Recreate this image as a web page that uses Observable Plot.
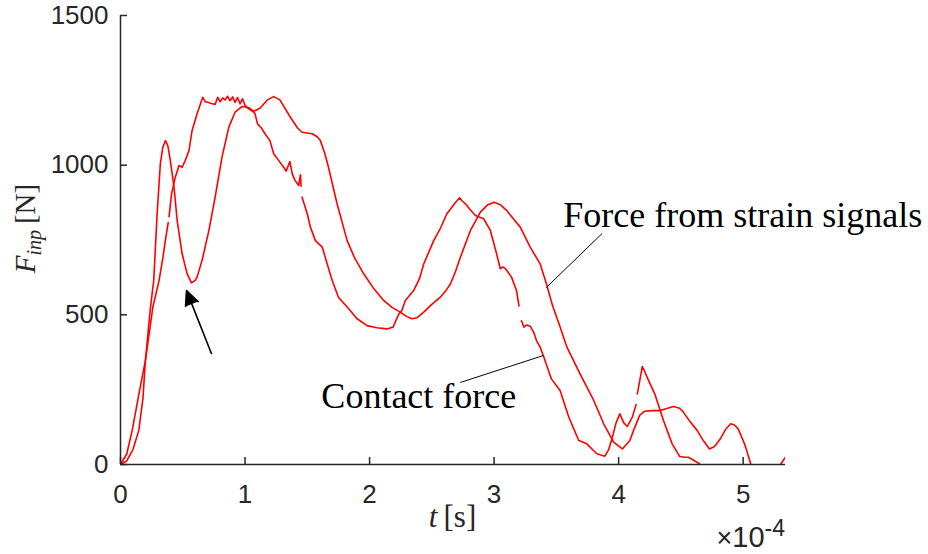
<!DOCTYPE html>
<html><head><meta charset="utf-8">
<script src="https://cdn.jsdelivr.net/npm/d3@7"></script>
<script src="https://cdn.jsdelivr.net/npm/@observablehq/plot@0.6"></script>
<style>body{margin:0;background:#fff} #chart svg{display:block}</style>
</head><body><div id="chart"></div>
<script>
// time in units of 1e-4 s, force in N
const strainT = [0,0.05,0.10,0.147,0.18,0.20,0.241,0.267,0.294,0.32,0.34,0.361,0.38,0.40,0.43,0.455,0.495,0.535,0.57,0.60,0.615,0.655,0.71,0.76,0.815,0.87,0.92,0.977,1.03,1.07,1.12,1.18,1.23,1.28,1.364,1.42,1.458,1.538,1.58,1.605,1.64,1.67,1.739,1.82,1.88,1.953,2.03,2.113,2.18,2.247,2.30,2.34,2.38,2.435,2.50,2.568,2.62,2.65,2.69,2.73,2.81,2.89,2.95,3.0,3.05,3.10,3.21,3.29,3.37,3.42,3.47,3.53,3.585,3.69,3.80,3.88,3.96,4.03,4.09,4.12,4.17,4.21,4.27,4.33,4.38,4.44,4.49,4.52,4.57,4.63,4.68,4.73,4.77,4.82,4.86,4.90,4.93,4.96,5.00,5.02,5.06,5.10,5.18,5.25,5.30,5.34];
const strainF = [0,12,50,114,220,347,526,615,837,1005,1060,1082,1065,1016,926,815,704,637,607,615,626,682,782,893,1027,1127,1177,1196,1192,1180,1190,1218,1229,1218,1160,1125,1110,1105,1095,1082,1040,993,871,748,690,637,590,548,525,509,494,487,490,509,535,559,585,604,645,693,782,843,868,876,868,849,793,726,670,604,530,459,392,303,214,136,75,52,80,114,165,178,180,180,186,194,188,175,145,114,80,52,60,88,118,136,132,119,80,58,3,-60,-100,-50,0,25];

const contactT = [0,0.05,0.094,0.15,0.20,0.26,0.31,0.34,0.36,0.383,0.385,0.39,0.41,0.44,0.47,0.495,0.52,0.55,0.575,0.615,0.66,0.68,0.70,0.73,0.76,0.78,0.80,0.82,0.84,0.86,0.88,0.90,0.92,0.94,0.96,0.98,1.00,1.03,1.06,1.08,1.10,1.13,1.16,1.20,1.23,1.27,1.31,1.33,1.36,1.38,1.40,1.43,1.445,1.45,1.452,1.458,1.50,1.525,1.565,1.62,1.66,1.70,1.75,1.82,1.90,1.98,2.06,2.14,2.19,2.21,2.236,2.26,2.287,2.354,2.40,2.435,2.515,2.57,2.62,2.68,2.723,2.74,2.77,2.81,2.85,2.916,2.97,3.02,3.05,3.07,3.09,3.14,3.18,3.20,3.21,3.22,3.24,3.26,3.29,3.32,3.34,3.37,3.40,3.46,3.53,3.60,3.68,3.745,3.79,3.825,3.87,3.89,3.92,3.95,3.98,4.01,4.04,4.07,4.11,4.14,4.145,4.15,4.19,4.21,4.24,4.29,4.36,4.43,4.49,4.53,4.56,4.60,4.65,4.70];
const contactF = [0,35,114,240,347,526,615,690,748,808,null,828,904,960,999,993,1016,1049,1116,1172,1227,1212,1210,1206,1203,1227,1212,1225,1218,1230,1215,1228,1210,1226,1205,1222,1200,1188,1180,1172,1138,1125,1105,1082,1038,1016,993,980,1012,970,950,932,968,930,null,893,837,793,748,726,670,615,559,526,487,464,457,453,459,480,503,515,548,581,620,670,748,790,837,870,891,882,871,850,832,821,782,704,654,660,655,626,581,530,null,480,459,466,462,440,414,392,358,286,247,158,80,69,50,36,30,28,50,91,140,169,140,127,158,200,null,236,327,310,281,236,147,69,27,24,24,15,2,-30];

const seriesNames = ["Force from strain signals", "Contact force"];
const xTicks = [0, 1, 2, 3, 4, 5];
const yTicks = [0, 500, 1000, 1500];
const xDomain = [0, 5.34];
const yDomain = [0, 1500];

// annotation anchors in data units
const labelX = [3.555, 1.613];
const labelY = [795, 190];
const leaderX1 = [3.419, 3.395];
const leaderY1 = [591, 364];
const leaderX2 = [3.868, 2.729];
const leaderY2 = [772, 274];
const arrowX1 = [0.730];
const arrowY1 = [371];
const arrowX2 = [0.530];
const arrowY2 = [581];

const strainRows = strainT.map((t, i) => ({t, F: strainF[i]}));
const contactRows = contactT.map((t, i) => ({t, F: contactF[i]}));
const labels = seriesNames.map((name, i) => ({name, x: labelX[i], y: labelY[i]}));
const leaders = leaderX1.map((x1, i) => ({x1, y1: leaderY1[i], x2: leaderX2[i], y2: leaderY2[i]}));
const arrows = arrowX1.map((x1, i) => ({x1, y1: arrowY1[i], x2: arrowX2[i], y2: arrowY2[i]}));

const axisColor = "#262626";
const plot = Plot.plot({
  width: 928, height: 554,
  marginLeft: 120, marginRight: 143, marginTop: 15, marginBottom: 90,
  x: {domain: xDomain},
  y: {domain: yDomain},
  style: {background: "white", color: axisColor, fontFamily: "'Liberation Sans', Arial, sans-serif"},
  marks: [
    Plot.line(strainRows, {x: "t", y: "F", stroke: "#ff0000", strokeWidth: 1.6, clip: true}),
    Plot.line(contactRows, {x: "t", y: "F", stroke: "#ff0000", strokeWidth: 1.6, clip: true}),
    Plot.ruleY([0], {stroke: axisColor, strokeWidth: 1.5}),
    Plot.ruleX([0], {stroke: axisColor, strokeWidth: 1.5}),
    Plot.axisX({ticks: xTicks, tickSize: -7, tickPadding: 27, tickFormat: d => String(d), fontSize: 26, label: null, strokeWidth: 1.5}),
    Plot.axisY({ticks: yTicks, tickSize: -7, tickPadding: 19, tickFormat: d => String(d), fontSize: 26, label: null, strokeWidth: 1.5}),
    Plot.link(leaders, {x1: "x1", y1: "y1", x2: "x2", y2: "y2", stroke: "black", strokeWidth: 1}),
    Plot.arrow(arrows, {x1: "x1", y1: "y1", x2: "x2", y2: "y2", stroke: "black", fill: "black", strokeWidth: 1.6, headLength: 15, headAngle: 50}),
    Plot.text(labels, {x: "x", y: "y", text: "name", textAnchor: "start", lineAnchor: "bottom", fontFamily: "'Liberation Serif', 'Times New Roman', serif", fontSize: 36, fill: "black"})
  ]
});
document.getElementById("chart").appendChild(plot);

// axis titles and exponent
const svg = d3.select(plot);
const sx = plot.scale("x"), sy = plot.scale("y");
const xMid = (sx.range[0] + sx.range[1]) / 2;
const yMid = (sy.range[0] + sy.range[1]) / 2;
const serif = "'Liberation Serif', 'Times New Roman', serif";

const xl = svg.append("text").attr("x", xMid).attr("y", sy.range[0] + 63)
  .attr("text-anchor", "middle").attr("font-family", serif).attr("font-size", 31).attr("fill", axisColor);
xl.append("tspan").attr("font-style", "italic").text("t");
xl.append("tspan").text("\u2009[s]");

const yl = svg.append("text")
  .attr("transform", `translate(${sx.range[0] - 85},${yMid - 11}) rotate(-90)`)
  .attr("text-anchor", "middle").attr("font-family", serif).attr("font-size", 29).attr("fill", axisColor);
yl.append("tspan").attr("font-style", "italic").text("F");
yl.append("tspan").attr("font-style", "italic").attr("font-size", 20).attr("dy", 6).text("inp");
yl.append("tspan").attr("dy", -6).text("\u2009[N]");

const ex = svg.append("text").attr("x", sx.range[1]).attr("y", sy.range[0] + 83)
  .attr("text-anchor", "end").attr("font-family", "'Liberation Sans', Arial, sans-serif").attr("font-size", 29).attr("fill", axisColor);
ex.append("tspan").attr("font-size", 27).text("\u00d7");
ex.append("tspan").text("10");
ex.append("tspan").attr("font-size", 23).attr("dy", -11).text("-4");
</script>
</body></html>
